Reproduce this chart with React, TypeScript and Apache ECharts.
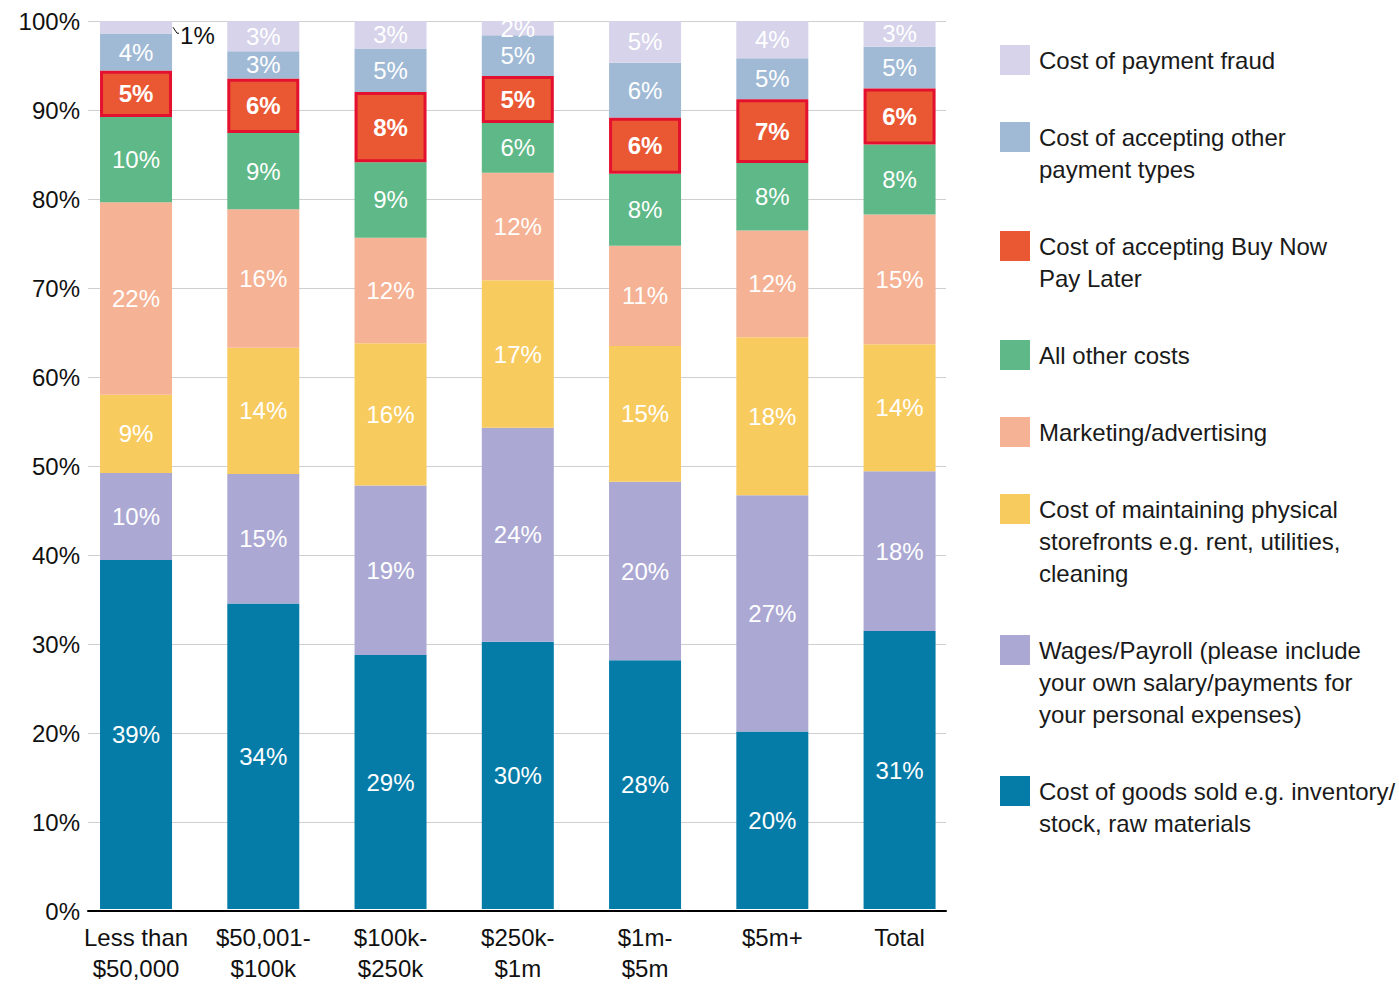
import React, { useEffect, useRef } from 'react';
import * as echarts from 'echarts';

// Categories (x axis)
const categories = [
  'Less than\n$50,000',
  '$50,001-\n$100k',
  '$100k-\n$250k',
  '$250k-\n$1m',
  '$1m-\n$5m',
  '$5m+',
  'Total',
];

// Series values (% share of costs), bottom to top of each stack
const costOfGoods = [39.3, 34.4, 28.6, 30.1, 28.0, 20.0, 31.3];
const wagesPayroll = [9.8, 14.6, 19.1, 24.1, 20.1, 26.6, 18.0];
const storefronts = [8.8, 14.2, 16.0, 16.6, 15.3, 17.8, 14.3];
const marketing = [21.7, 15.6, 11.9, 12.1, 11.3, 12.0, 14.6];
const allOtherCosts = [9.6, 8.6, 8.5, 5.6, 8.1, 7.6, 7.9];
const buyNowPayLater = [5.2, 6.1, 7.9, 5.3, 6.3, 7.2, 6.3];
const otherPaymentTypes = [4.2, 3.1, 4.9, 4.6, 6.2, 4.6, 4.7];
const paymentFraud = [1.4, 3.4, 3.1, 1.6, 4.7, 4.2, 2.9];

// Y axis ticks
const yMin = 0;
const yMax = 100;
const yInterval = 10;

const seriesDefs = [
  { key: 'cogs', name: 'Cost of goods sold e.g. inventory/\nstock, raw materials', data: costOfGoods, color: '#057ca8' },
  { key: 'wages', name: 'Wages/Payroll (please include\nyour own salary/payments for\nyour personal expenses)', data: wagesPayroll, color: '#aba9d3' },
  { key: 'store', name: 'Cost of maintaining physical\nstorefronts e.g. rent, utilities,\ncleaning', data: storefronts, color: '#f8cb5f' },
  { key: 'mkt', name: 'Marketing/advertising', data: marketing, color: '#f5b294' },
  { key: 'other', name: 'All other costs', data: allOtherCosts, color: '#5eb887' },
  { key: 'bnpl', name: 'Cost of accepting Buy Now\nPay Later', data: buyNowPayLater, color: '#ea5733' },
  { key: 'otherpay', name: 'Cost of accepting other\npayment types', data: otherPaymentTypes, color: '#a0bad5' },
  { key: 'fraud', name: 'Cost of payment fraud', data: paymentFraud, color: '#d6d3ea' },
];

const FONT = '"Liberation Sans", Arial, Helvetica, sans-serif';
const BAR_WIDTH = 72;

export default function App() {
  const ref = useRef<HTMLDivElement>(null);

  useEffect(() => {
    if (!ref.current) return;
    const chart = echarts.init(ref.current, undefined, { renderer: 'svg' });

    const fmt = (p: any) => Math.round(Number(p.value)) + '%';

    const series = seriesDefs.map((s) => {
      const isBnpl = s.key === 'bnpl';
      const isFraud = s.key === 'fraud';
      const data = s.data.map((v, i) => {
        if (isFraud && i === 0) {
          return {
            value: v,
            label: {
              position: 'right',
              distance: 8,
              offset: [0, 8.5],
              color: '#111',
              fontWeight: 'normal',
            },
          };
        }
        return v;
      });
      return {
        name: s.name.replace(/\n/g, ' '),
        type: 'bar',
        stack: 'total',
        xAxisIndex: 1,
        yAxisIndex: 1,
        barWidth: BAR_WIDTH,
        data,
        z: isBnpl ? 4 : 2,
        itemStyle: isBnpl
          ? { color: s.color, borderColor: '#e3102f', borderWidth: 3 }
          : { color: s.color },
        label: {
          show: true,
          position: 'inside',
          color: '#ffffff',
          fontFamily: FONT,
          fontSize: 24,
          fontWeight: isBnpl ? 'bold' : 'normal',
          formatter: fmt,
        },
        emphasis: { disabled: true },
      } as any;
    });

    // Custom legend (icon aligned with first text line)
    const legendOrder = [...seriesDefs].reverse();
    const graphics: any[] = [];
    let yc = 60;
    legendOrder.forEach((s) => {
      const lines = s.name.split('\n').length;
      graphics.push({
        type: 'rect',
        shape: { x: 1000, y: yc - 15, width: 30, height: 30 },
        style: { fill: s.color },
        silent: true,
      });
      graphics.push({
        type: 'text',
        x: 1039,
        y: yc - 16,
        style: {
          text: s.name,
          fontFamily: FONT,
          fontSize: 24,
          lineHeight: 32,
          fill: '#1a1a1a',
          verticalAlign: 'top',
          align: 'left',
        },
        silent: true,
      });
      yc += 77 + 32 * (lines - 1);
    });

    chart.setOption({
      animation: false,
      backgroundColor: '#ffffff',
      textStyle: { fontFamily: FONT },
      grid: [
        { left: 88, top: 21, width: 858, height: 890, containLabel: false },
        { left: 72.4, top: 21, width: 890.8, height: 890, containLabel: false },
      ],
      xAxis: [
        {
          type: 'category',
          gridIndex: 0,
          data: categories,
          z: 10,
          axisLine: { show: true, lineStyle: { color: '#000', width: 2 } },
          axisTick: { show: false },
          axisLabel: { show: false },
          splitLine: { show: false },
        },
        {
          type: 'category',
          gridIndex: 1,
          data: categories,
          axisLine: { show: false },
          axisTick: { show: false },
          axisLabel: {
            interval: 0,
            color: '#111',
            fontFamily: FONT,
            fontSize: 24,
            lineHeight: 31,
            margin: 13,
          },
        },
      ],
      yAxis: [
        {
          type: 'value',
          gridIndex: 0,
          min: yMin,
          max: yMax,
          interval: yInterval,
          axisLine: { show: false },
          axisTick: { show: false },
          axisLabel: {
            formatter: '{value}%',
            color: '#111',
            fontFamily: FONT,
            fontSize: 24,
            margin: 8,
          },
          splitLine: { show: true, lineStyle: { color: '#cfcfcf', width: 1 } },
        },
        {
          type: 'value',
          gridIndex: 1,
          min: yMin,
          max: yMax,
          interval: yInterval,
          show: false,
          splitLine: { show: false },
        },
      ],
      series,
      graphic: graphics,
    });

    // Leader line for the small outside label of the first fraud segment
    const stackTop = seriesDefs.reduce((acc, s) => acc + s.data[0], 0);
    const mid = stackTop - paymentFraud[0] / 2;
    const pt = chart.convertToPixel({ xAxisIndex: 1, yAxisIndex: 1 } as any, [0, mid]) as any;
    if (pt && isFinite(pt[0]) && isFinite(pt[1])) {
      const xr = pt[0] + BAR_WIDTH / 2;
      const y0 = pt[1];
      chart.setOption({
        graphic: [
          ...graphics,
          {
            type: 'polyline',
            silent: true,
            z: 20,
            shape: { points: [[xr + 1, y0], [xr + 5, y0 + 6], [xr + 7, y0 + 6]] },
            style: { stroke: '#111', lineWidth: 1, fill: null },
          },
        ],
      });
    }

    return () => chart.dispose();
  }, []);

  return (
    <div
      ref={ref}
      style={{ position: 'fixed', left: 0, top: 0, width: 1399, height: 984, background: '#fff' }}
    />
  );
}
